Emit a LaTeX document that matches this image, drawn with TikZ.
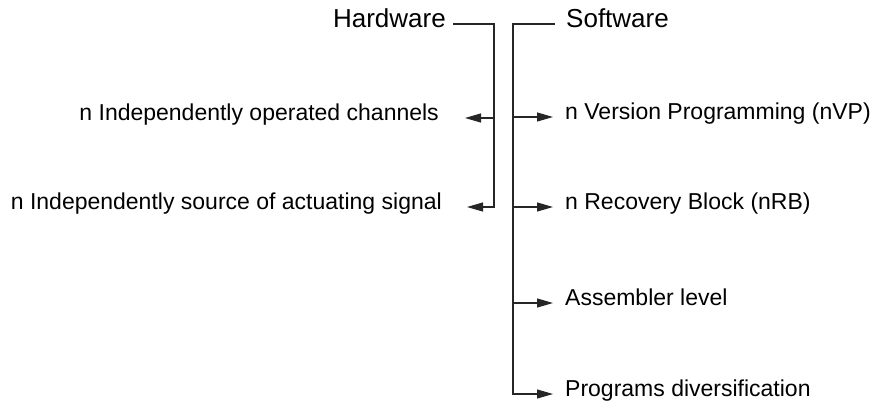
\documentclass[tikz,border=0pt]{standalone}
\usepackage{fontspec}
\setmainfont{Liberation Sans}
\usetikzlibrary{arrows.meta}
\tikzset{
  big/.style={inner sep=0pt, font=\fontsize{26}{31}\selectfont},
  itm/.style={inner sep=0pt, font=\fontsize{23}{28}\selectfont},
  ln/.style={draw=black!85, line width=1.1pt},
  arr/.style={ln, -{Triangle[length=16pt,width=9pt]}},
}
\begin{document}
\begin{tikzpicture}[x=1pt,y=-1pt]
\useasboundingbox (0,0) rectangle (872,407);
\node[big, anchor=mid east] (hw) at (446,25) {Hardware};
\node[big, anchor=mid west] (sw) at (566,25) {Software};
\coordinate (hc) at (494,24);
\coordinate (sc) at (513,24);
\node[itm, anchor=mid east] (h1) at (439,118) {n Independently operated channels};
\node[itm, anchor=mid east] (h2) at (442,207) {n Independently source of actuating signal};
\node[itm, anchor=mid west] (s1) at (565,117) {n Version Programming (nVP)};
\node[itm, anchor=mid west] (s2) at (565,207) {n Recovery Block (nRB)};
\node[itm, anchor=mid west] (s3) at (565,303) {Assembler level};
\node[itm, anchor=mid west] (s4) at (565,394) {Programs diversification};
\draw[arr, shorten >=25pt] ([xshift=7pt,yshift=1pt]hw.mid east) -| (hc |- h2.mid east) -- (h2.mid east);
\draw[arr, shorten >=26pt] (hc |- h1.mid east) -- (h1.mid east);
\draw[arr, shorten >=12pt] ([xshift=-11pt,yshift=1pt]sw.mid west) -| (sc |- s4.mid west) -- (s4.mid west);
\draw[arr, shorten >=12pt] (sc |- s1.mid west) -- (s1.mid west);
\draw[arr, shorten >=12pt] (sc |- s2.mid west) -- (s2.mid west);
\draw[arr, shorten >=12pt] (sc |- s3.mid west) -- (s3.mid west);
\end{tikzpicture}
\end{document}
